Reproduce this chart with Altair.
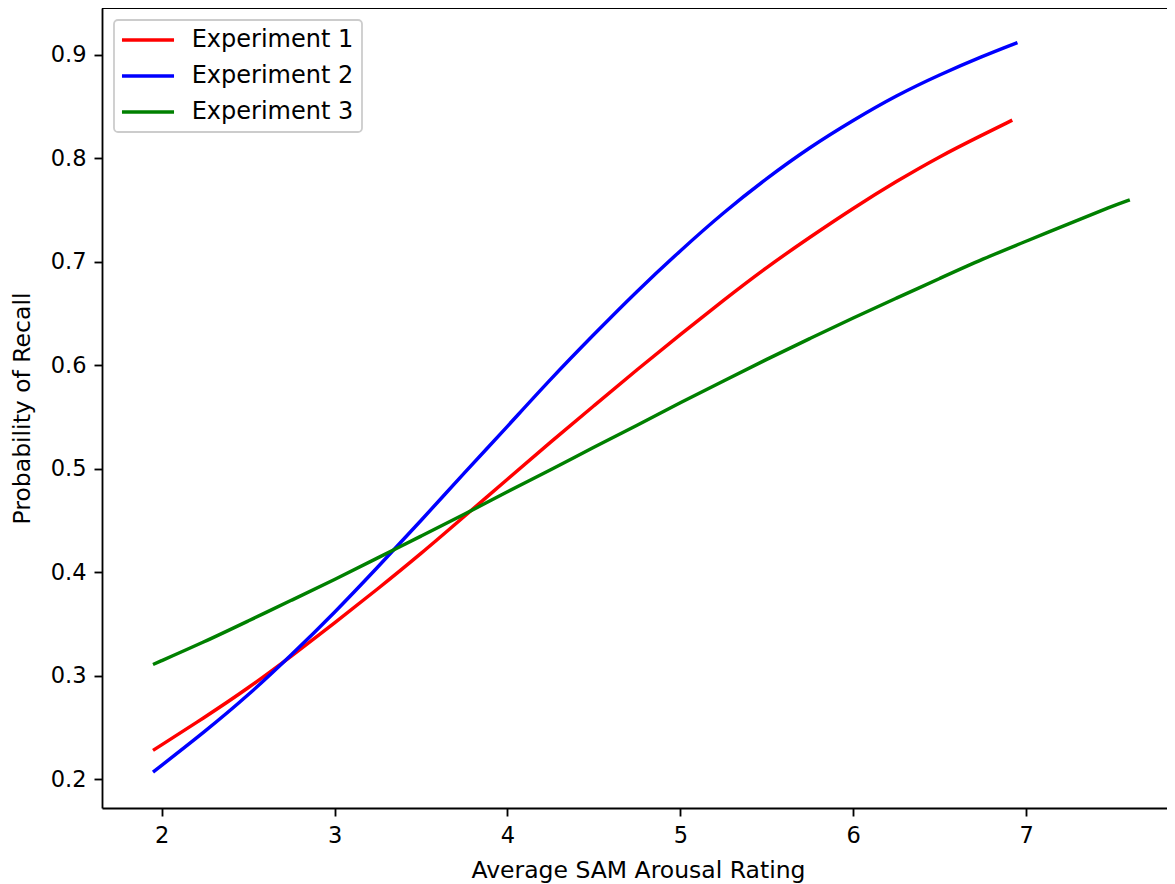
import altair as alt
import pandas as pd

# Values
exp1_x = [1.95, 2.25, 2.5, 2.75, 3.0, 3.25, 3.5, 3.75, 4.0, 4.25, 4.5, 4.75, 5.0, 5.25, 5.5, 5.75, 6.0, 6.25, 6.5, 6.75, 6.92]
exp1_y = [0.228, 0.260, 0.288, 0.319, 0.351, 0.384, 0.418, 0.454, 0.490, 0.526, 0.561, 0.596, 0.630, 0.663, 0.695, 0.724, 0.752, 0.778, 0.802, 0.823, 0.837]

exp2_x = [1.95, 2.25, 2.5, 2.75, 3.0, 3.25, 3.5, 3.75, 4.0, 4.25, 4.5, 4.75, 5.0, 5.25, 5.5, 5.75, 6.0, 6.25, 6.5, 6.75, 6.95]
exp2_y = [0.207, 0.246, 0.281, 0.320, 0.361, 0.405, 0.450, 0.496, 0.541, 0.587, 0.630, 0.672, 0.711, 0.748, 0.781, 0.811, 0.837, 0.861, 0.881, 0.899, 0.912]

exp3_x = [1.95, 2.25, 2.5, 2.75, 3.0, 3.25, 3.5, 3.75, 4.0, 4.25, 4.5, 4.75, 5.0, 5.25, 5.5, 5.75, 6.0, 6.25, 6.5, 6.75, 7.0, 7.25, 7.5, 7.6]
exp3_y = [0.311, 0.333, 0.353, 0.373, 0.393, 0.414, 0.435, 0.456, 0.478, 0.499, 0.521, 0.542, 0.564, 0.585, 0.606, 0.626, 0.646, 0.665, 0.684, 0.703, 0.720, 0.737, 0.754, 0.760]

series_names = ["Experiment 1", "Experiment 2", "Experiment 3"]
series_colors = ["#ff0000", "#0000ff", "#008000"]
x_ticks = [2, 3, 4, 5, 6, 7]
y_ticks = [0.2, 0.3, 0.4, 0.5, 0.6, 0.7, 0.8, 0.9]

rows = []
for name, xs, ys in zip(series_names, [exp1_x, exp2_x, exp3_x], [exp1_y, exp2_y, exp3_y]):
    for i, (xv, yv) in enumerate(zip(xs, ys)):
        rows.append({"series": name, "x": xv, "y": yv, "order": i})
df = pd.DataFrame(rows)

FONT = "DejaVu Sans"

lines = alt.Chart(df).mark_line(strokeWidth=3.45, interpolate="basis").encode(
    x=alt.X(
        "x:Q",
        scale=alt.Scale(domain=[1.655, 7.815], nice=False, zero=False),
        axis=alt.Axis(
            values=x_ticks,
            format="d",
            title="Average SAM Arousal Rating",
            titleX=536,
            titleY=69,
            titleBaseline="alphabetic",
        ),
    ),
    y=alt.Y(
        "y:Q",
        scale=alt.Scale(domain=[0.1723, 0.9454], nice=False, zero=False),
        axis=alt.Axis(
            values=y_ticks,
            format=".1f",
            title="Probability of Recall",
            titleX=-72.5,
            titleY=400,
            titleBaseline="alphabetic",
        ),
    ),
    color=alt.Color(
        "series:N",
        scale=alt.Scale(domain=series_names, range=series_colors),
        legend=alt.Legend(
            title=None,
            orient="none",
            legendX=12,
            legendY=12,
            symbolType="M-2.67,0H2.67",
            symbolSize=380,
            symbolStrokeWidth=3.45,
            symbolOffset=14,
            labelOffset=31.7,
            labelFont=FONT,
            labelFontSize=24,
            labelColor="#000000",
            labelLimit=400,
            padding=8,
            rowPadding=12,
            strokeColor="#cccccc",
            fillColor="#ffffff",
            cornerRadius=4,
        ),
    ),
    order="order:Q",
)

top_spine = alt.Chart(df).mark_rule(color="#000000", strokeWidth=1.84).encode(
    y=alt.value(0)
)

chart = (
    alt.layer(lines, top_spine)
    .properties(
        width=1065,
        height=800,
        autosize=alt.AutoSizeParams(type="none"),
        padding={"left": 94, "top": 0, "right": 0, "bottom": 76},
    )
    .configure_view(stroke=None)
    .configure_axis(
        grid=False,
        domainColor="#000000",
        domainWidth=1.84,
        tickColor="#000000",
        tickWidth=1.84,
        tickSize=8,
        labelFont=FONT,
        labelFontSize=22.5,
        labelColor="#000000",
        labelPadding=8,
        titleFont=FONT,
        titleFontSize=23.5,
        titleFontWeight="normal",
        titleColor="#000000",
    )
    .configure_legend(strokeWidth=1.8)
)

chart.save("out.html", embed_options={"renderer": "svg", "actions": False})
